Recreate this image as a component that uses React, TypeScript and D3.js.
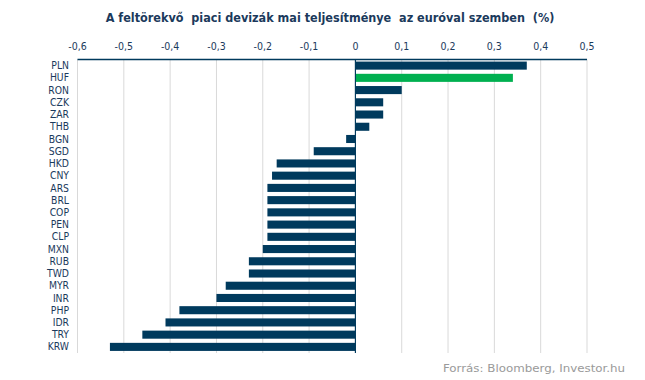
import React from "react";
import * as d3 from "d3";

const categories = ["PLN","HUF","RON","CZK","ZAR","THB","BGN","SGD","HKD","CNY","ARS","BRL","COP","PEN","CLP","MXN","RUB","TWD","MYR","INR","PHP","IDR","TRY","KRW"];
const values = [0.37,0.34,0.10,0.06,0.06,0.03,-0.02,-0.09,-0.17,-0.18,-0.19,-0.19,-0.19,-0.19,-0.19,-0.20,-0.23,-0.23,-0.28,-0.30,-0.38,-0.41,-0.46,-0.53];
const highlight = "HUF";
const ticks = [-0.6,-0.5,-0.4,-0.3,-0.2,-0.1,0,0.1,0.2,0.3,0.4,0.5];
const title = "A feltörekvő  piaci devizák mai teljesítménye  az euróval szemben  (%)";
const source = "Forrás: Bloomberg, Investor.hu";

const W = 645, H = 380;
const NAVY = "#003a5d";
const GREEN = "#00b050";
const TEXT = "#1b3a5c";
const FONT = "'DejaVu Sans Condensed', 'DejaVu Sans', sans-serif";

export default function App() {
  const x = d3.scaleLinear().domain([-0.6, 0.5]).range([77.5, 587]);
  const y = d3.scaleBand<string>().domain(categories).range([59.5, 353]).paddingInner(0.34).paddingOuter(0.17);
  const fmt = (v: number) => (v === 0 ? "0" : String(Math.round(v * 10) / 10).replace(".", ","));
  return (
    <svg width={W} height={H} style={{ position: "absolute", left: 0, top: 0, background: "#fff" }}>
      <text x={330} y={22} textAnchor="middle" fontFamily={FONT} fontWeight="bold" fontSize={12.5} fill={TEXT} xmlSpace="preserve" style={{ whiteSpace: "pre" }}>{title}</text>
      {ticks.map((t) => (
        <line key={"g" + t} x1={x(t)} x2={x(t)} y1={59.5} y2={353} stroke={t === 0 ? NAVY : "#d9d9d9"} strokeWidth={1} />
      ))}
      {categories.map((c, i) => {
        const v = values[i];
        return (
          <rect key={c} x={x(Math.min(0, v))} y={y(c)} width={Math.abs(x(v) - x(0))} height={y.bandwidth()} fill={c === highlight ? GREEN : NAVY} />
        );
      })}
      <line x1={x(0)} x2={x(0)} y1={59.5} y2={353} stroke={NAVY} strokeWidth={1} />
      <line x1={77.5} x2={587} y1={59.5} y2={59.5} stroke={NAVY} strokeWidth={1.3} />
      {ticks.map((t) => (
        <text key={"t" + t} x={x(t)} y={50} textAnchor="middle" fontFamily={FONT} fontSize={10.5} fill={TEXT}>{fmt(t)}</text>
      ))}
      {categories.map((c) => (
        <text key={"l" + c} x={69} y={(y(c) as number) + y.bandwidth() / 2} dy="0.35em" textAnchor="end" fontFamily={FONT} fontSize={10.3} fill={TEXT}>{c}</text>
      ))}
      <text x={625} y={372} textAnchor="end" fontFamily={FONT} fontSize={10.5} fill="#9a9a9a" textLength={182} lengthAdjust="spacingAndGlyphs">{source}</text>
    </svg>
  );
}
